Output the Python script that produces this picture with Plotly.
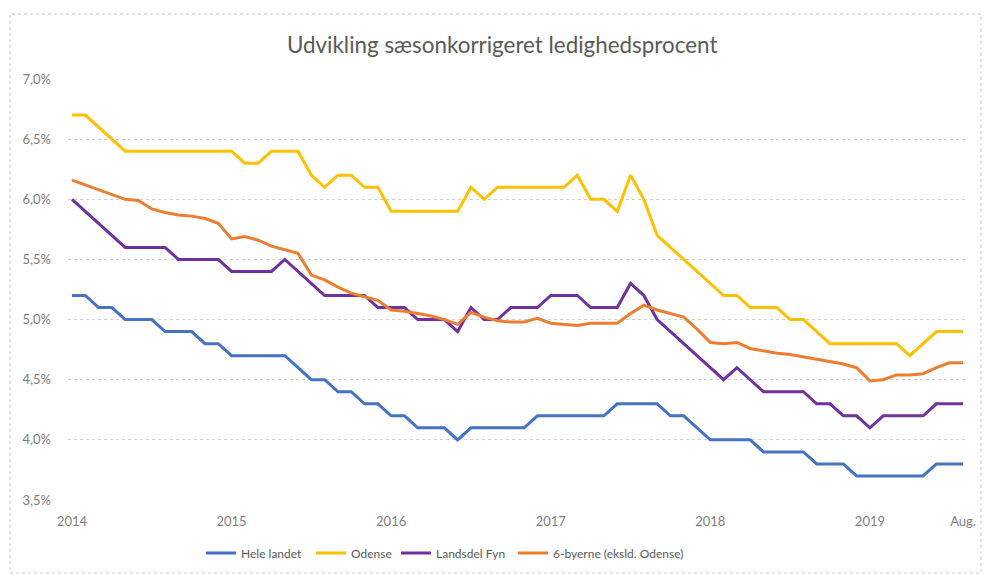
import plotly.graph_objects as go

months = list(range(68))  # Jan 2014 .. Aug 2019

hele_landet = [5.2, 5.2, 5.1, 5.1, 5.0, 5.0, 5.0, 4.9, 4.9, 4.9, 4.8, 4.8,
               4.7, 4.7, 4.7, 4.7, 4.7, 4.6, 4.5, 4.5, 4.4, 4.4, 4.3, 4.3,
               4.2, 4.2, 4.1, 4.1, 4.1, 4.0, 4.1, 4.1, 4.1, 4.1, 4.1, 4.2,
               4.2, 4.2, 4.2, 4.2, 4.2, 4.3, 4.3, 4.3, 4.3, 4.2, 4.2, 4.1,
               4.0, 4.0, 4.0, 4.0, 3.9, 3.9, 3.9, 3.9, 3.8, 3.8, 3.8, 3.7,
               3.7, 3.7, 3.7, 3.7, 3.7, 3.8, 3.8, 3.8]

odense = [6.7, 6.7, 6.6, 6.5, 6.4, 6.4, 6.4, 6.4, 6.4, 6.4, 6.4, 6.4,
          6.4, 6.3, 6.3, 6.4, 6.4, 6.4, 6.2, 6.1, 6.2, 6.2, 6.1, 6.1,
          5.9, 5.9, 5.9, 5.9, 5.9, 5.9, 6.1, 6.0, 6.1, 6.1, 6.1, 6.1,
          6.1, 6.1, 6.2, 6.0, 6.0, 5.9, 6.2, 6.0, 5.7, 5.6, 5.5, 5.4,
          5.3, 5.2, 5.2, 5.1, 5.1, 5.1, 5.0, 5.0, 4.9, 4.8, 4.8, 4.8,
          4.8, 4.8, 4.8, 4.7, 4.8, 4.9, 4.9, 4.9]

landsdel_fyn = [6.0, 5.9, 5.8, 5.7, 5.6, 5.6, 5.6, 5.6, 5.5, 5.5, 5.5, 5.5,
                5.4, 5.4, 5.4, 5.4, 5.5, 5.4, 5.3, 5.2, 5.2, 5.2, 5.2, 5.1,
                5.1, 5.1, 5.0, 5.0, 5.0, 4.9, 5.1, 5.0, 5.0, 5.1, 5.1, 5.1,
                5.2, 5.2, 5.2, 5.1, 5.1, 5.1, 5.3, 5.2, 5.0, 4.9, 4.8, 4.7,
                4.6, 4.5, 4.6, 4.5, 4.4, 4.4, 4.4, 4.4, 4.3, 4.3, 4.2, 4.2,
                4.1, 4.2, 4.2, 4.2, 4.2, 4.3, 4.3, 4.3]

seks_byerne = [6.16, 6.12, 6.08, 6.04, 6.00, 5.99, 5.92, 5.89, 5.87, 5.86, 5.84, 5.80,
               5.67, 5.69, 5.66, 5.61, 5.58, 5.55, 5.37, 5.33, 5.27, 5.22, 5.19, 5.16,
               5.08, 5.07, 5.05, 5.03, 5.00, 4.96, 5.06, 5.02, 4.99, 4.98, 4.98, 5.01,
               4.97, 4.96, 4.95, 4.97, 4.97, 4.97, 5.05, 5.12, 5.08, 5.05, 5.02, 4.92,
               4.81, 4.80, 4.81, 4.76, 4.74, 4.72, 4.71, 4.69, 4.67, 4.65, 4.63, 4.60,
               4.49, 4.50, 4.54, 4.54, 4.55, 4.60, 4.64, 4.64]

x_tick_vals = [0, 12, 24, 36, 48, 60, 67]
x_tick_text = ["2014", "2015", "2016", "2017", "2018", "2019", "Aug."]
y_tick_vals = [3.5, 4.0, 4.5, 5.0, 5.5, 6.0, 6.5, 7.0]
y_tick_text = ["3,5%", "4,0%", "4,5%", "5,0%", "5,5%", "6,0%", "6,5%", "7,0%"]

series = [
    ("Hele landet", hele_landet, "#4472C4"),
    ("Odense", odense, "#FFC000"),
    ("Landsdel Fyn", landsdel_fyn, "#7030A0"),
    ("6-byerne (eksld. Odense)", seks_byerne, "#ED7D31"),
]

# legend entry left edges (px) so that entries sit like the original
legend_px = [201, 311, 396, 513]
legend_names = ["legend", "legend2", "legend3", "legend4"]

W, H = 984, 574
PLOT_L, PLOT_W = 68, 899
PLOT_B, PLOT_H = 500, 421

fig = go.Figure()
for (name, vals, color), lg in zip(series, legend_names):
    fig.add_trace(go.Scatter(x=months, y=vals, mode="lines", name=name,
                             legend=lg, line=dict(color=color, width=3)))

font_family = "Lato, 'Open Sans', sans-serif"
label_color = "#7f7f7f"

layout_legends = {}
for lg, px in zip(legend_names, legend_px):
    layout_legends[lg] = dict(orientation="h", xref="container", x=px / W, xanchor="left",
                              yref="container", y=1 - 553 / H, yanchor="middle",
                              font=dict(size=12, color="#595959"),
                              bgcolor="rgba(0,0,0,0)")

fig.update_layout(
    width=W, height=H,
    margin=dict(l=PLOT_L, r=W - PLOT_L - PLOT_W, t=79, b=H - PLOT_B, autoexpand=False),
    paper_bgcolor="white", plot_bgcolor="white",
    font=dict(family=font_family, size=13, color=label_color),
    title=dict(text="Udvikling sæsonkorrigeret ledighedsprocent",
               xref="paper", x=0.483, xanchor="center",
               y=1 - 45 / H, yanchor="middle",
               font=dict(size=22.4, color="#595959", family=font_family)),
    showlegend=True,
    xaxis=dict(range=[-0.3, 67.3], tickmode="array", tickvals=x_tick_vals,
               ticktext=x_tick_text, showgrid=False, zeroline=False,
               showline=False, ticks="", ticklabelstandoff=12,
               tickfont=dict(size=13, color=label_color)),
    yaxis=dict(range=[3.5, 7.0], tickmode="array", tickvals=y_tick_vals,
               ticktext=y_tick_text, showgrid=True, gridcolor="#cfcfcf",
               griddash="dot", gridwidth=1, zeroline=False, showline=False,
               ticks="", ticklabelstandoff=16,
               tickfont=dict(size=13, color=label_color)),
    shapes=[dict(type="rect", xref="paper", yref="paper",
                 x0=(10 - PLOT_L) / PLOT_W, x1=(981 - PLOT_L) / PLOT_W,
                 y0=(PLOT_B - 573) / PLOT_H, y1=(PLOT_B - 14) / PLOT_H,
                 line=dict(color="#c8c8c8", width=1, dash="dot"),
                 fillcolor="rgba(0,0,0,0)", layer="below")],
    **layout_legends,
)

fig.write_html("out.html", config={"displayModeBar": False},
               post_script="document.body.style.margin='0px';")
